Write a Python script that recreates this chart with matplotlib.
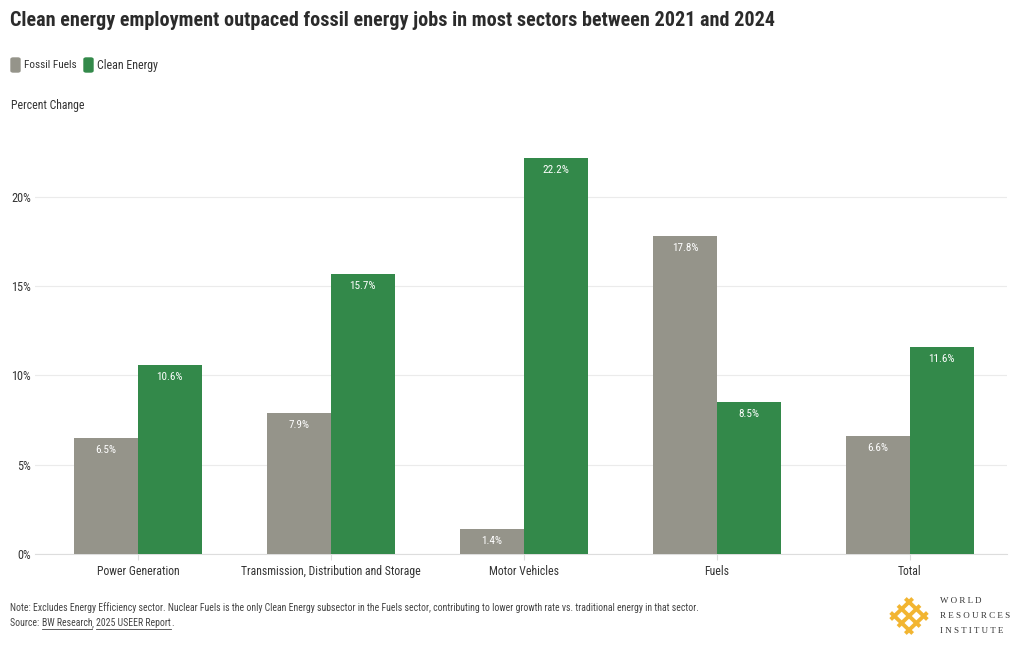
import matplotlib
matplotlib.use("Agg")
import matplotlib.pyplot as plt
import numpy as np
from matplotlib.patches import Rectangle, FancyBboxPatch
from matplotlib.lines import Line2D
from matplotlib import font_manager as fm

categories = ["Power Generation", "Transmission, Distribution and Storage", "Motor Vehicles", "Fuels", "Total"]
fossil = [6.5, 7.9, 1.4, 17.8, 6.6]
clean = [10.6, 15.7, 22.2, 8.5, 11.6]
yticks = [0, 5, 10, 15, 20]
series_names = ["Fossil Fuels", "Clean Energy"]

GRAY = "#95948a"
GREEN = "#33894a"
TXT = "#333333"

names = {f.name for f in fm.fontManager.ttflist}
STRETCH = "normal"
if "Roboto Condensed" in names:
    FAM = ["Roboto Condensed", "DejaVu Sans"]
elif "Liberation Sans Narrow" in names:
    FAM = ["Liberation Sans Narrow", "DejaVu Sans"]
else:
    FAM = ["DejaVu Sans"]
    STRETCH = "condensed"
plt.rcParams["font.family"] = FAM
plt.rcParams["font.stretch"] = STRETCH

W, H = 1020, 650
fig = plt.figure(figsize=(W / 100, H / 100), dpi=100)
fig.canvas.draw()
R = fig.canvas.get_renderer()


def fx(px):
    return px / W


def fy(py):
    return 1 - py / H


def fit(t, width_px):
    bb = t.get_window_extent(R)
    t.set_fontsize(t.get_fontsize() * width_px / bb.width)
    return t


ax = fig.add_axes([fx(35), fy(554), fx(1007) - fx(35), fy(150) - fy(554)])
x = np.arange(len(categories))
bw = 0.33
b1 = ax.bar(x - bw / 2, fossil, bw, color=GRAY, zorder=3)
b2 = ax.bar(x + bw / 2, clean, bw, color=GREEN, zorder=3)
for bars, vals in ((b1, fossil), (b2, clean)):
    for r, v in zip(bars, vals):
        ax.text(r.get_x() + r.get_width() / 2, v - 0.4, f"{v}%", ha="center", va="top",
                color="white", fontsize=8, zorder=4)

ax.set_xlim(-0.534, 4.503)
ax.set_ylim(0, 22.63)
ax.set_yticks(yticks)
ax.set_yticklabels([f"{t}%" for t in yticks], fontsize=8.8, color=TXT)
ax.set_xticks(x)
ax.set_xticklabels(categories, fontsize=8.5, color=TXT)
ax.tick_params(axis="y", length=0, pad=3)
ax.tick_params(axis="x", length=4, color="#dddddd", pad=4)
ax.grid(axis="y", color="#ebebeb", linewidth=0.8, zorder=0)
for s in ["top", "right", "left"]:
    ax.spines[s].set_visible(False)
ax.spines["bottom"].set_color("#dddddd")
ax.spines["bottom"].set_linewidth(0.8)

# Title
tt = fig.text(fx(10), fy(21), "Clean energy employment outpaced fossil energy jobs in most sectors between 2021 and 2024",
              fontsize=14.5, fontweight="bold", color="#2b2b2b", va="center", ha="left")
fit(tt, 767)

# Legend
for (x0, col) in ((11, GRAY), (84, GREEN)):
    fig.patches.append(FancyBboxPatch((fx(x0), fy(72)), fx(9), fy(58) - fy(72),
                                      boxstyle="round,pad=0,rounding_size=0.002",
                                      transform=fig.transFigure, color=col, figure=fig))
l1 = fig.text(fx(24), fy(65), series_names[0], fontsize=8.5, color=TXT, va="center")
fit(l1, 53)
l2 = fig.text(fx(97), fy(65), series_names[1], fontsize=8.5, color=TXT, va="center")
fit(l2, 61)

pc = fig.text(fx(11), fy(106), "Percent Change", fontsize=8.5, color=TXT, va="center")
fit(pc, 73)

# Notes
nt = fig.text(fx(10), fy(608), "Note: Excludes Energy Efficiency sector. Nuclear Fuels is the only Clean Energy subsector in the Fuels sector, contributing to lower growth rate vs. traditional energy in that sector.",
              fontsize=7, color="#444444", va="center")
fit(nt, 693)
NFS = nt.get_fontsize()
t0 = fig.text(fx(10), fy(623), "Source: ", fontsize=NFS, color="#444444", va="center")
bb = t0.get_window_extent(R)
t1 = fig.text(bb.x1 / W, fy(623), "BW Research", fontsize=NFS, color="#444444", va="center")
bb1 = t1.get_window_extent(R)
t2 = fig.text(bb1.x1 / W, fy(623), ", ", fontsize=NFS, color="#444444", va="center")
bb2 = t2.get_window_extent(R)
t3 = fig.text(bb2.x1 / W, fy(623), "2025 USEER Report", fontsize=NFS, color="#444444", va="center")
bb3 = t3.get_window_extent(R)
fig.text(bb3.x1 / W, fy(623), ".", fontsize=NFS, color="#444444", va="center")
for b in (bb1, bb3):
    fig.lines.append(Line2D([b.x0 / W, b.x1 / W], [(b.y0 - 0.5) / H] * 2, transform=fig.transFigure,
                            color="#444444", linewidth=0.6))

# WRI logo (approximation: woven diamond lattice)
LOGO = "#f2b531"
top = np.array([909.0, 595.0])
right = np.array([931.0, 616.0])
left = np.array([887.0, 616.0])
du = right - top
dv = left - top
for s in (1 / 6, 1 / 2, 5 / 6):
    p0 = top + s * du
    p1 = top + s * du + dv
    fig.lines.append(Line2D([fx(p0[0]), fx(p1[0])], [fy(p0[1]), fy(p1[1])], transform=fig.transFigure,
                            color=LOGO, linewidth=2.8, solid_capstyle="butt"))
    q0 = top + s * dv
    q1 = top + s * dv + du
    fig.lines.append(Line2D([fx(q0[0]), fx(q1[0])], [fy(q0[1]), fy(q1[1])], transform=fig.transFigure,
                            color=LOGO, linewidth=2.8, solid_capstyle="butt"))
serif = ["Liberation Serif", "DejaVu Serif"]
for i, w in enumerate(["W O R L D", "R E S O U R C E S", "I N S T I T U T E"]):
    fig.text(fx(940), fy(601 + i * 15), w, fontsize=6.5, family=serif, color="#333333", va="center",
             stretch="normal")

fig.savefig("out.png", dpi=100, facecolor="white")
